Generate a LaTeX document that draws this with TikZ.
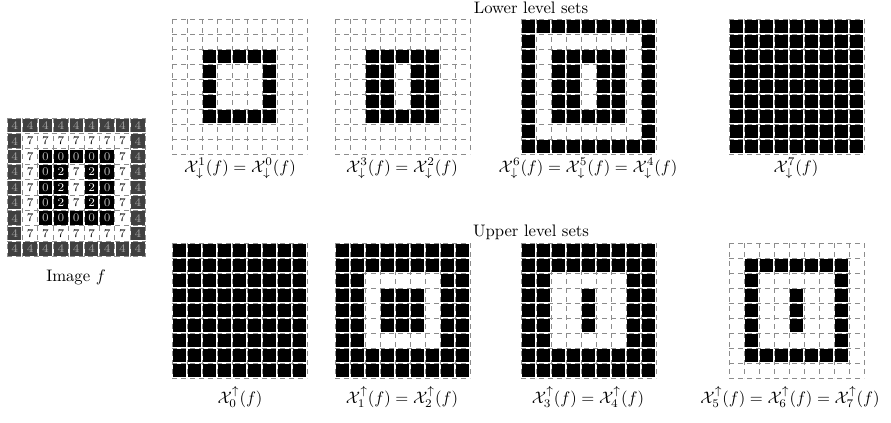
\documentclass[tikz,border=0pt]{standalone}
\usepackage{amsmath}
\usepackage{tikz}

\def\fvals{{4,4,4,4,4,4,4,4,4,
  4,7,7,7,7,7,7,7,4,
  4,7,0,0,0,0,0,7,4,
  4,7,0,2,7,2,0,7,4,
  4,7,0,2,7,2,0,7,4,
  4,7,0,2,7,2,0,7,4,
  4,7,0,0,0,0,0,7,4,
  4,7,7,7,7,7,7,7,4,
  4,4,4,4,4,4,4,4,4}}

% level set grid: #1,#2 top left corner, #3 test on the pixel value \v
\newcommand{\levelgrid}[3]{%
  \foreach \r in {0,...,8} {
    \foreach \c in {0,...,8} {
      \pgfmathtruncatemacro\v{\fvals[9*\r+\c]}
      \pgfmathtruncatemacro\on{#3}
      \ifnum\on=1
        \fill[black] ({#1+15*\c+1},{#2+15*\r+1}) rectangle ++(13,13);
      \fi
    }
  }
  \foreach \i in {0,...,9} {
    \draw[cellline] ({#1+15*\i},#2) -- ++(0,135);
    \draw[cellline] (#1,{#2+15*\i}) -- ++(135,0);
  }
}

\begin{document}
\begin{tikzpicture}[x=0.6pt,y=-0.6pt,
  cellline/.style={draw=black!45,line width=0.4pt,dash pattern=on 3pt off 2.4pt}]
\useasboundingbox (0,0) rectangle (891,422);

% image f
\foreach \r in {0,...,8} {
  \foreach \c in {0,...,8} {
    \pgfmathtruncatemacro\v{\fvals[9*\r+\c]}
    \ifcase\v \def\bg{black}\def\fg{black!25}\or\or
      \def\bg{black}\def\fg{white}\or\or
      \def\bg{black!75}\def\fg{black!35}\or\or\or
      \def\bg{white}\def\fg{black}\fi
    \fill[\bg] ({7+15.4*\c+1},{118+15.4*\r+1}) rectangle ++(13.4,13.4);
    \node[text=\fg,inner sep=0pt] (f-\r-\c) at ({7+15.4*\c+7.7},{118+15.4*\r+7.7}) {\scriptsize\v};
  }
}
\foreach \i in {0,...,9} {
  \draw[cellline] ({7+15.4*\i},118) -- ++(0,138.6);
  \draw[cellline] (7,{118+15.4*\i}) -- ++(138.6,0);
}
\node[anchor=base] (flab) at (76,281) {Image $f$};

% lower level sets
\node (lowtitle) at (531,8) {Lower level sets};
\levelgrid{172}{19}{\v<=1}
\levelgrid{335}{19}{\v<=3}
\levelgrid{521}{19}{\v<=6}
\levelgrid{729}{19}{\v<=7}
\node[anchor=base] (low1) at (240,172) {$\mathcal{X}_\downarrow^1(f)=\mathcal{X}_\downarrow^0(f)$};
\node[anchor=base] (low2) at (402,172) {$\mathcal{X}_\downarrow^3(f)=\mathcal{X}_\downarrow^2(f)$};
\node[anchor=base] (low3) at (588,172) {$\mathcal{X}_\downarrow^6(f)=\mathcal{X}_\downarrow^5(f)=\mathcal{X}_\downarrow^4(f)$};
\node[anchor=base] (low4) at (796,172) {$\mathcal{X}_\downarrow^7(f)$};

% upper level sets
\node (uptitle) at (531,232) {Upper level sets};
\levelgrid{172}{243}{\v>=0}
\levelgrid{335}{243}{\v>=1}
\levelgrid{521}{243}{\v>=3}
\levelgrid{729}{243}{\v>=5}
\node[anchor=base] (up1) at (240,403) {$\mathcal{X}_0^\uparrow(f)$};
\node[anchor=base] (up2) at (402,403) {$\mathcal{X}_1^\uparrow(f)=\mathcal{X}_2^\uparrow(f)$};
\node[anchor=base] (up3) at (588,403) {$\mathcal{X}_3^\uparrow(f)=\mathcal{X}_4^\uparrow(f)$};
\node[anchor=base] (up4) at (790,403) {$\mathcal{X}_5^\uparrow(f)=\mathcal{X}_6^\uparrow(f)=\mathcal{X}_7^\uparrow(f)$};
\end{tikzpicture}
\end{document}
